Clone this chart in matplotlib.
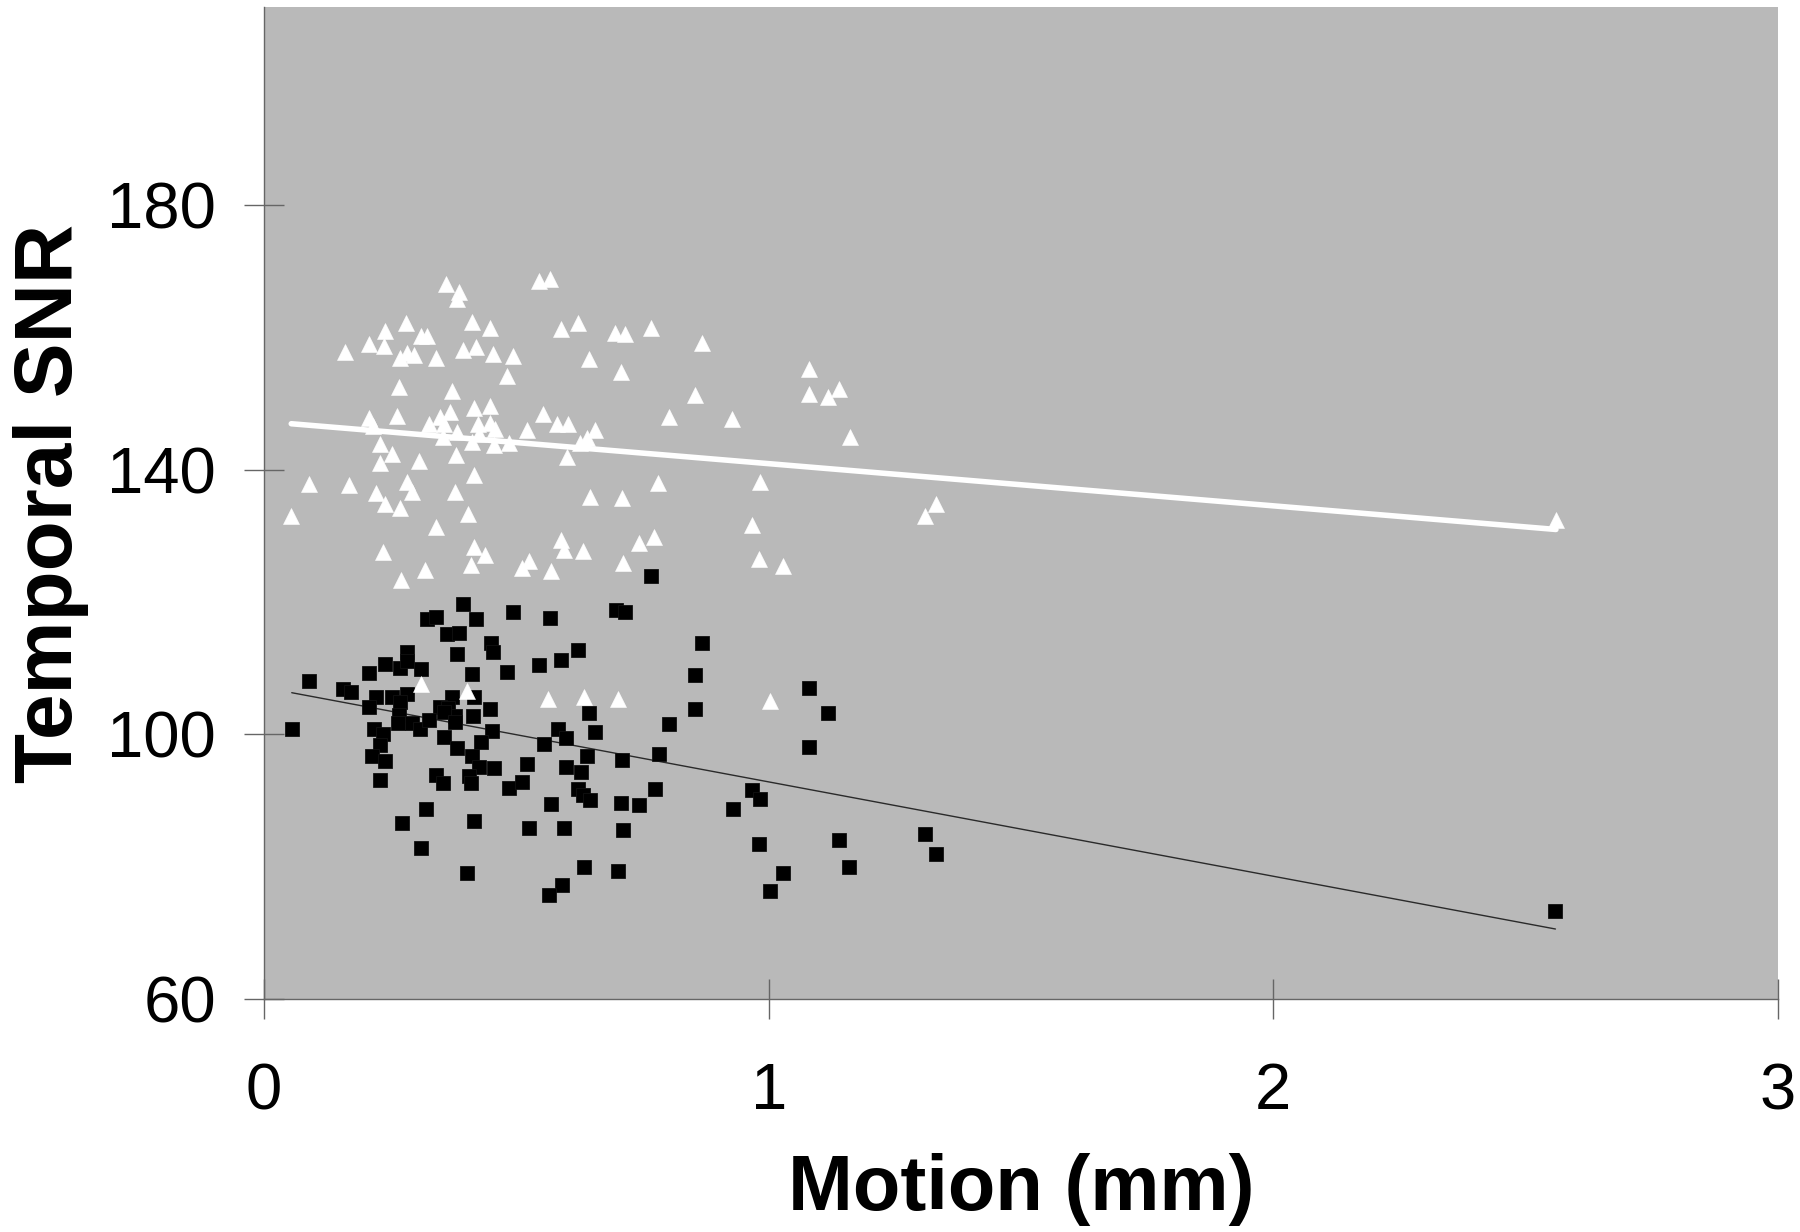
import matplotlib
matplotlib.use("Agg")
import matplotlib.pyplot as plt
import numpy as np

plt.rcParams['font.family'] = ['Liberation Sans', 'DejaVu Sans']

# ---- data ----
tri_x = [0.361, 0.387, 0.383, 0.544, 0.566, 0.282, 0.412, 0.448, 0.588, 0.240,
         0.311, 0.323, 0.208, 0.238, 0.161, 0.283, 0.297, 0.270, 0.340, 0.394,
         0.420, 0.453, 0.493, 0.481, 0.268, 0.372, 0.416, 0.447, 0.369, 0.553,
         0.209, 0.264, 0.348, 0.326, 0.356, 0.425, 0.448, 0.458, 0.521, 0.580,
         0.603, 0.216, 0.354, 0.383, 0.412, 0.427, 0.455, 0.486, 0.230, 0.253,
         0.308, 0.381, 0.230, 0.416, 0.600,
         0.089, 0.169, 0.284, 0.222, 0.240, 0.270, 0.293, 0.379, 0.405, 0.054,
         0.340, 0.235, 0.416, 0.437, 0.410, 0.320, 0.272, 0.588, 0.595, 0.512,
         0.526, 0.568, 0.311, 0.403, 0.563,
         0.623, 0.696, 0.716, 0.767, 0.868, 0.643, 0.707, 1.079, 1.079, 1.118,
         1.140, 0.855, 0.802, 0.927, 1.161, 0.656, 0.641, 0.627,
         0.645, 0.709, 0.781, 0.982, 0.966, 0.632, 0.744, 0.773, 0.712, 0.980,
         1.028, 0.635, 0.701, 1.002, 1.332, 1.309, 2.560]
tri_y = [168.1, 166.9, 165.9, 168.6, 168.8, 162.2, 162.4, 161.4, 161.3, 161.0,
         160.3, 160.3, 159.1, 158.7, 157.8, 157.7, 157.4, 157.0, 157.0, 158.2,
         158.6, 157.6, 157.3, 154.2, 152.6, 151.9, 149.3, 149.6, 148.8, 148.5,
         147.8, 148.1, 148.0, 146.9, 147.0, 147.0, 147.1, 146.2, 146.1, 146.9,
         147.0, 146.7, 145.0, 145.7, 144.2, 145.5, 143.7, 144.0, 143.9, 142.4,
         141.4, 142.2, 141.0, 139.3, 142.0,
         137.9, 137.7, 138.2, 136.5, 134.9, 134.3, 136.6, 136.7, 133.3, 133.0,
         131.3, 127.6, 128.3, 127.1, 125.6, 124.8, 123.4, 129.4, 127.9, 125.1,
         126.2, 124.7, 107.7, 106.5, 105.4,
         162.2, 160.7, 160.5, 161.4, 159.2, 156.7, 154.8, 155.3, 151.5, 151.0,
         152.2, 151.3, 148.0, 147.7, 145.0, 146.1, 144.9, 144.1,
         135.9, 135.8, 138.0, 138.1, 131.7, 127.7, 129.0, 129.8, 125.9, 126.6,
         125.5, 105.7, 105.4, 105.1, 134.8, 133.1, 132.5]

sq_x = [0.394, 0.323, 0.340, 0.420, 0.494, 0.566, 0.362, 0.387, 0.450, 0.453,
        0.283, 0.383, 0.240, 0.270, 0.283, 0.311, 0.208, 0.413, 0.482, 0.544,
        0.589, 0.089, 0.157, 0.173,
        0.222, 0.253, 0.283, 0.270, 0.209, 0.372, 0.416, 0.447, 0.348, 0.365,
        0.379, 0.415, 0.268, 0.265, 0.293, 0.309, 0.326, 0.356, 0.379, 0.217,
        0.235, 0.230, 0.214, 0.240, 0.055, 0.356, 0.383, 0.452, 0.430, 0.412,
        0.427, 0.456, 0.522, 0.554, 0.582, 0.599, 0.599, 0.340, 0.354, 0.407,
        0.410, 0.486, 0.511, 0.230, 0.569, 0.321, 0.273, 0.417, 0.526, 0.595,
        0.311, 0.403, 0.590, 0.564,
        0.767, 0.698, 0.716, 0.623, 0.868, 0.855, 1.079,
        0.643, 0.854, 1.118, 0.656, 0.802, 1.079, 0.640, 0.709, 0.782, 0.628,
        0.623, 0.633, 0.646, 0.707, 0.744, 0.774, 0.967, 0.982, 0.929, 0.712,
        0.980, 1.139, 0.635, 0.701, 1.029, 1.159, 1.002,
        1.309, 1.332, 2.559]
sq_y = [119.7, 117.4, 117.8, 117.4, 118.5, 117.6, 115.2, 115.3, 113.8, 112.5,
        112.5, 112.1, 110.6, 110.1, 111.1, 109.9, 109.3, 109.2, 109.4, 110.5,
        111.3, 108.1, 106.8, 106.4,
        105.7, 105.7, 106.1, 104.9, 104.2, 105.7, 105.6, 103.9, 104.2, 104.0,
        102.8, 102.8, 102.9, 101.8, 101.8, 100.8, 102.2, 103.4, 101.9, 100.8,
        100.0, 98.4, 96.7, 96.0, 100.8, 99.6, 98.0, 100.5, 98.9, 96.7,
        95.1, 95.0, 95.6, 98.6, 100.9, 99.4, 95.1, 93.9, 92.7, 93.7,
        92.7, 91.9, 92.8, 93.1, 89.5, 88.8, 86.6, 86.9, 85.9, 85.9,
        82.9, 79.0, 77.2, 75.7,
        123.9, 118.8, 118.5, 112.8, 113.8, 109.0, 107.1,
        103.3, 103.9, 103.2, 100.3, 101.6, 98.1, 96.7, 96.2, 97.1, 94.4,
        91.8, 90.8, 90.1, 89.7, 89.4, 91.8, 91.6, 90.3, 88.8, 85.5,
        83.5, 84.0, 80.0, 79.4, 79.1, 79.9, 76.3,
        85.0, 82.0, 73.3]

# linear trend lines (slope, intercept)
tri_trend = (-6.38, 147.33)
sq_trend = (-14.27, 107.1)

x_ticks = [0, 1, 2, 3]
y_ticks = [60, 100, 140, 180]
x_label = "Motion (mm)"
y_label = "Temporal SNR"

# ---- figure ----
fig = plt.figure(figsize=(18, 12.32), dpi=100)
ax = fig.add_axes([264/1800, 1 - 999/1232, (1778 - 264)/1800, (999 - 7)/1232])
ax.set_facecolor('#b9b9b9')

ax.set_xlim(0, 3)
ax.set_ylim(60, 210)

for x_arr, slope_int, color, lw in [(tri_x, tri_trend, 'white', 4.0),
                                     (sq_x, sq_trend, '#2a2a2a', 1.0)]:
    xs = np.array([min(x_arr), max(x_arr)])
    ax.plot(xs, slope_int[0] * xs + slope_int[1], color=color, lw=lw,
            solid_capstyle='round', zorder=2)

ax.plot(sq_x, sq_y, linestyle='none', marker='s', markersize=10.5,
        markerfacecolor='black', markeredgecolor='#111111', markeredgewidth=0.6, zorder=3)
ax.plot(tri_x, tri_y, linestyle='none', marker='^', markersize=12,
        markerfacecolor='white', markeredgecolor='white', markeredgewidth=0.4, zorder=4)

for side in ['top', 'right']:
    ax.spines[side].set_visible(False)
for side in ['left', 'bottom']:
    ax.spines[side].set_color('#666666')
    ax.spines[side].set_linewidth(1.0)

ax.set_xticks(x_ticks)
ax.set_yticks(y_ticks)
ax.tick_params(axis='both', direction='inout', length=29, width=1.0,
               color='#666666', labelsize=47, labelcolor='black')
ax.tick_params(axis='x', pad=31)
ax.tick_params(axis='y', pad=20)

ax.set_xlabel(x_label, fontsize=56, fontweight='bold', labelpad=22)
ax.set_ylabel(y_label, fontsize=59, fontweight='bold', labelpad=13)

fig.savefig('out.png', dpi=100)
